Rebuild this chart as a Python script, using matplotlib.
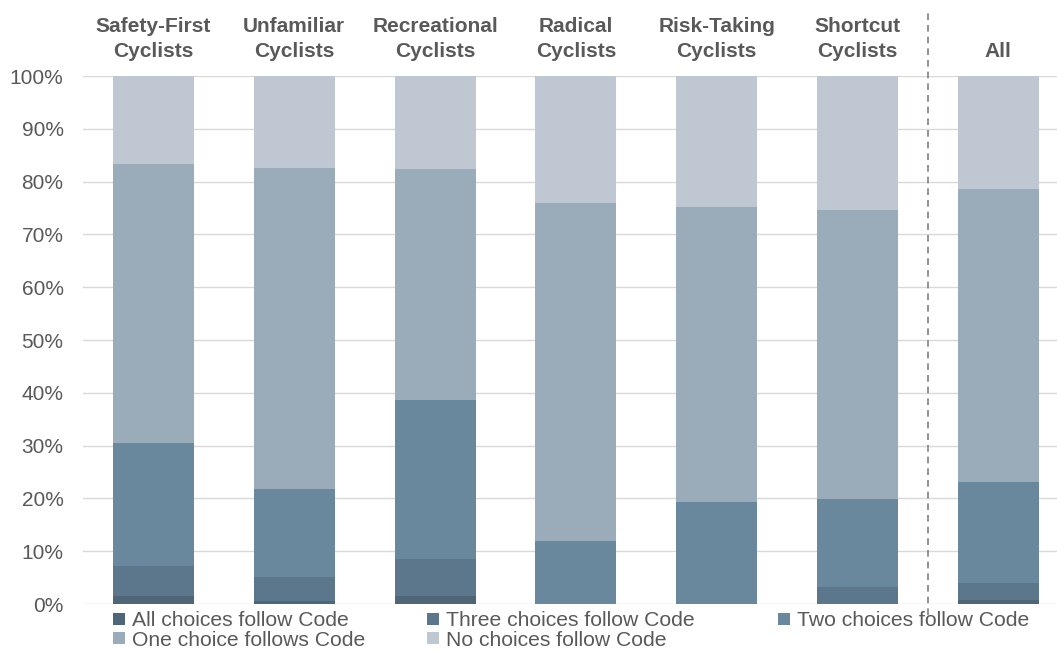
import matplotlib.pyplot as plt
import numpy as np

plt.rcParams['font.family'] = ['Liberation Sans', 'DejaVu Sans']

# data (percent of choices per cyclist group)
groups = ['Safety-First\nCyclists', 'Unfamiliar\nCyclists', 'Recreational\nCyclists',
          'Radical\nCyclists', 'Risk-Taking\nCyclists', 'Shortcut\nCyclists', 'All']
all_follow = [1.5, 0.5, 1.5, 0.0, 0.0, 0.0, 0.8]
three_follow = [5.7, 4.6, 7.0, 0.0, 0.0, 3.2, 3.2]
two_follow = [23.3, 16.7, 30.1, 11.9, 19.3, 16.7, 19.1]
one_follow = [52.8, 60.8, 43.8, 64.0, 55.9, 54.7, 55.5]
none_follow = [16.7, 17.4, 17.6, 24.1, 24.8, 25.4, 21.4]

series = [
    ('All choices follow Code', all_follow, '#4f6578'),
    ('Three choices follow Code', three_follow, '#5c778c'),
    ('Two choices follow Code', two_follow, '#69879d'),
    ('One choice follows Code', one_follow, '#9aacba'),
    ('No choices follow Code', none_follow, '#bfc8d2'),
]

fig = plt.figure(figsize=(10.57, 6.51), dpi=100)
ax = fig.add_axes([83 / 1057, 47 / 651, 974 / 1057, 528 / 651])

x = np.arange(len(groups))
bottom = np.zeros(len(groups))
handles = []
for name, vals, col in series:
    b = ax.bar(x, vals, 0.575, bottom=bottom, color=col, label=name, zorder=2)
    bottom += np.array(vals)
    handles.append(b)

ax.set_xlim(-0.5, 6.417)
ax.set_ylim(0, 100)
ax.set_yticks(np.arange(0, 101, 10))
ax.set_yticklabels([f'{v}%' for v in range(0, 101, 10)])
ax.yaxis.grid(True, color='#d9d9d9', linewidth=1, zorder=0)
ax.set_axisbelow(True)
for s in ax.spines.values():
    s.set_visible(False)

ax.xaxis.tick_top()
ax.set_xticks(x)
ax.set_xticklabels(groups, fontweight='bold', fontsize=15, color='#595959',
                   linespacing=1.4)
ax.tick_params(axis='x', length=0, pad=11)
ax.tick_params(axis='y', length=0, pad=14, labelsize=15, labelcolor='#595959')

# separator between groups and "All"
ax.axvline(5.5, ymin=-0.021, ymax=1.121, color='#808080', linestyle=(0, (4, 3)),
           linewidth=1.2, clip_on=False)

# legend, laid out row-wise in three columns like the original
columns = [([0, 3], 113, 630.5), ([1, 4], 427, 630.5), ([2], 778, 621)]
for idx, xpx, ypx in columns:
    leg = fig.legend([handles[i] for i in idx], [series[i][0] for i in idx],
                     loc='center left', bbox_to_anchor=(xpx / 1057, 1 - ypx / 651),
                     frameon=False, fontsize=15.2, handlelength=0.55,
                     handleheight=0.55, handletextpad=0.35, labelspacing=0.0,
                     borderpad=0, borderaxespad=0)
    for t in leg.get_texts():
        t.set_color('#595959')

fig.savefig('out.png', dpi=100)
